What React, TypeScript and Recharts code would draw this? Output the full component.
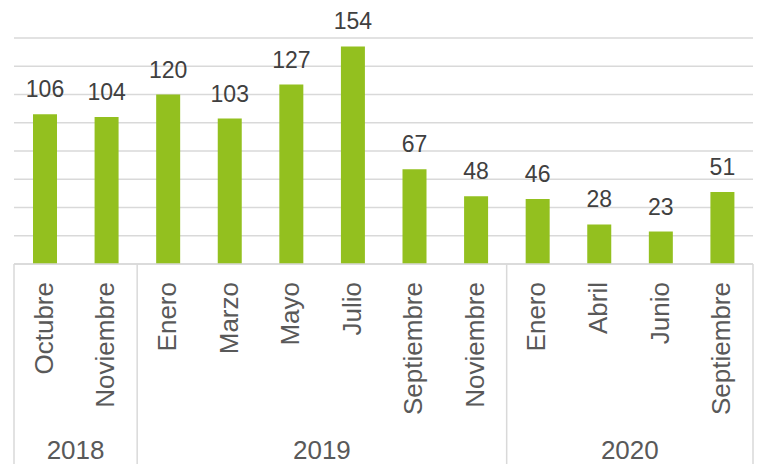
import React from 'react';
import { BarChart, Bar, XAxis, YAxis, CartesianGrid, LabelList } from 'recharts';

const months = ['Octubre', 'Noviembre', 'Enero', 'Marzo', 'Mayo', 'Julio', 'Septiembre', 'Noviembre', 'Enero', 'Abril', 'Junio', 'Septiembre'];
const years = ['2018', '2018', '2019', '2019', '2019', '2019', '2019', '2019', '2020', '2020', '2020', '2020'];
const values = [106, 104, 120, 103, 127, 154, 67, 48, 46, 28, 23, 51];
const yTicks = [0, 20, 40, 60, 80, 100, 120, 140, 160];

const data = months.map((m, i) => ({ key: `${years[i]}-${i}`, month: m, year: years[i], value: values[i] }));

const W = 758;
const H = 464;
const M = { top: 38, right: 5, left: 14, bottom: 0 };
const BAND = (W - M.left - M.right) / values.length;
const FONT = '"Liberation Sans", Arial, sans-serif';
const GRID = '#d9d9d9';
const TEXT = '#595959';

function YearTick(props: any) {
  const { x, y, payload } = props;
  const i: number = payload.index;
  const els: React.ReactNode[] = [];
  const ly = y + 18;
  els.push(
    <text key="m" x={x} y={ly} dy={8} transform={`rotate(-90, ${x}, ${ly})`} textAnchor="end"
      fill={TEXT} fontSize={26} fontFamily={FONT}>{months[i]}</text>
  );
  const isStart = i === 0 || years[i] !== years[i - 1];
  if (isStart) {
    els.push(<line key="s" x1={x - BAND / 2} x2={x - BAND / 2} y1={y} y2={H} stroke={GRID} strokeWidth={1.5} />);
    let n = 0;
    while (i + n < years.length && years[i + n] === years[i]) n++;
    const cx = x + ((n - 1) / 2) * BAND;
    els.push(
      <text key="y" x={cx} y={y + 194.5} textAnchor="middle" fill={TEXT} fontSize={26} fontFamily={FONT}>{years[i]}</text>
    );
  }
  if (i === years.length - 1) {
    els.push(<line key="e" x1={x + BAND / 2} x2={x + BAND / 2} y1={y} y2={H} stroke={GRID} strokeWidth={1.5} />);
  }
  return <g>{els}</g>;
}

export default function App() {
  return (
    <div style={{ position: 'absolute', left: 0, top: 0, width: W, height: H, background: '#fff' }}>
      <BarChart width={W} height={H} data={data} margin={M} barSize={24}>
        <CartesianGrid vertical={false} stroke={GRID} strokeWidth={1.5} />
        <YAxis hide domain={[0, 160]} ticks={yTicks} />
        <XAxis dataKey="key" height={200} tickSize={0} tickMargin={0} tickLine={false} interval={0}
          axisLine={{ stroke: GRID, strokeWidth: 1.5 }} tick={<YearTick />} />
        <Bar dataKey="value" fill="#93c01f" isAnimationActive={false}>
          <LabelList dataKey="value" position="top" offset={17} fill="#404040" fontSize={23} fontFamily={FONT} />
        </Bar>
      </BarChart>
    </div>
  );
}
